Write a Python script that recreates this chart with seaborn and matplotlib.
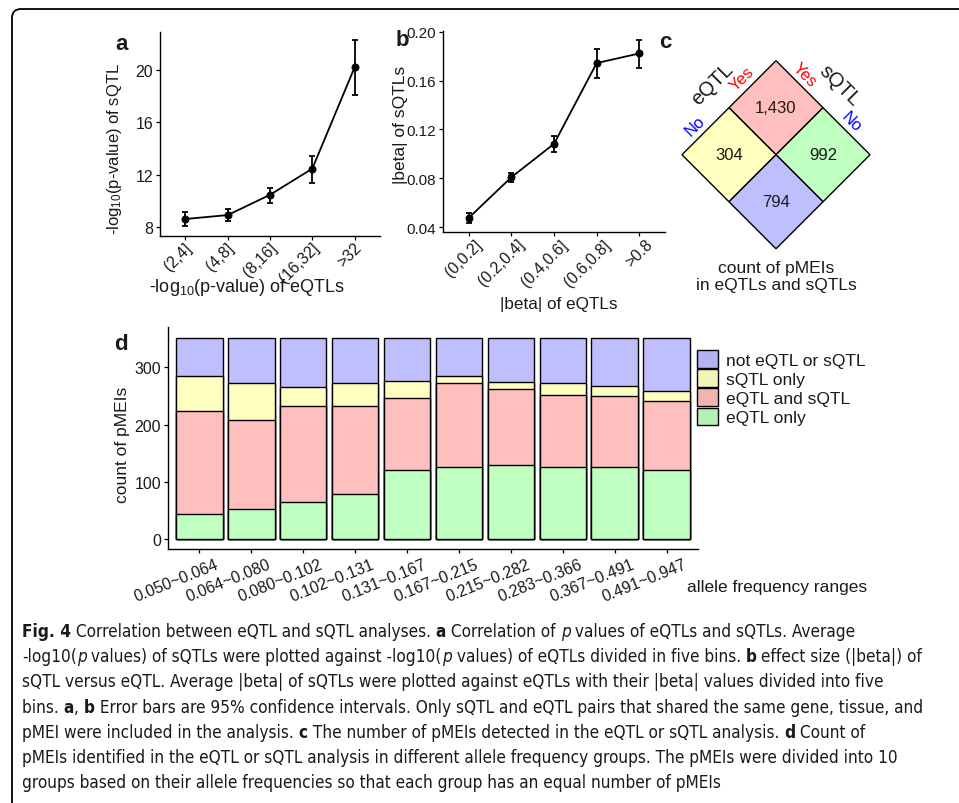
import numpy as np
import pandas as pd
import seaborn as sns
import matplotlib.pyplot as plt
from matplotlib import font_manager
from matplotlib.patches import Rectangle, FancyBboxPatch, Patch
from matplotlib.transforms import Affine2D, ScaledTranslation

# ---- panel a: -log10(p) of sQTL vs eQTL bins
pval_bins = ['(2,4]', '(4,8]', '(8,16]', '(16,32]', '>32']
pval_mean = [8.6, 8.9, 10.45, 12.45, 20.2]
pval_low = [8.05, 8.45, 9.85, 11.35, 18.1]
pval_high = [9.1, 9.4, 11.0, 13.45, 22.3]

# ---- panel b: |beta| of sQTL vs eQTL bins
beta_bins = ['(0,0.2]', '(0.2,0.4]', '(0.4,0.6]', '(0.6,0.8]', '>0.8']
beta_mean = [0.0474, 0.0808, 0.1082, 0.1745, 0.1824]
beta_low = [0.0433, 0.0767, 0.1019, 0.1622, 0.1704]
beta_high = [0.0515, 0.0844, 0.1145, 0.1857, 0.1934]

# ---- panel c: counts, rows = eQTL (Yes, No), cols = sQTL (Yes, No)
venn_levels = ['Yes', 'No']
venn_counts = [[1430, 992], [304, 794]]

# ---- panel d: stacked counts per allele frequency group
freq_ranges = ['0.050~0.064', '0.064~0.080', '0.080~0.102', '0.102~0.131',
               '0.131~0.167', '0.167~0.215', '0.215~0.282', '0.283~0.366',
               '0.367~0.491', '0.491~0.947']
eqtl_only = [44, 52, 65, 78, 121, 126, 130, 126, 126, 120]
eqtl_and_sqtl = [180, 156, 167, 155, 125, 146, 133, 126, 124, 122]
sqtl_only = [61, 65, 33, 39, 30, 13, 11, 21, 17, 16]
neither = [67, 79, 87, 80, 76, 67, 78, 79, 85, 94]

BLUE, YELLOW, PINK, GREEN = '#BFBFFF', '#FFFFBF', '#FFBFBF', '#BFFFBF'
INK = '#1a1a1a'

# make sure the Liberation fonts are registered, then pick what is there
for path in font_manager.findSystemFonts():
    if 'iberation' in path or 'Arimo' in path:
        try:
            font_manager.fontManager.addfont(path)
        except Exception:
            pass
names = {f.name for f in font_manager.fontManager.ttflist}


def pick(*cands):
    for c in cands:
        if c in names:
            return c
    return 'DejaVu Sans'


SANS = pick('Liberation Sans', 'Arimo', 'Arial', 'Roboto')
NARROW = pick('Liberation Sans Narrow', 'Arial Narrow')

sns.set_style('ticks')
plt.rcParams['font.family'] = [SANS, 'DejaVu Sans']
plt.rcParams['mathtext.fontset'] = 'custom'
plt.rcParams['mathtext.rm'] = SANS
plt.rcParams['mathtext.default'] = 'regular'
plt.rcParams['axes.linewidth'] = 1.0
plt.rcParams['axes.edgecolor'] = 'black'
plt.rcParams['xtick.color'] = 'black'
plt.rcParams['ytick.color'] = 'black'
plt.rcParams['xtick.labelcolor'] = INK
plt.rcParams['ytick.labelcolor'] = INK
plt.rcParams['xtick.major.size'] = 3
plt.rcParams['ytick.major.size'] = 3
plt.rcParams['xtick.major.width'] = 0.9
plt.rcParams['ytick.major.width'] = 0.9

W, H = 959, 804
fig = plt.figure(figsize=(W / 100, H / 100), dpi=100)


def px_axes(l, t, r, b):
    return fig.add_axes([l / W, 1 - b / H, (r - l) / W, (b - t) / H])


def shift(labels, dx, dy):
    off = ScaledTranslation(dx / 100, -dy / 100, fig.dpi_scale_trans)
    for lab in labels:
        lab.set_transform(lab.get_transform() + off)


def line_panel(ax, bins, mean, low, high, tick_size):
    pos = np.arange(len(bins))
    df = pd.DataFrame({'pos': pos, 'mean': mean})
    sns.lineplot(data=df, x='pos', y='mean', color='black', linewidth=1.3,
                 marker='o', markersize=5, markeredgecolor='black', ax=ax)
    err = [np.subtract(mean, low), np.subtract(high, mean)]
    ax.errorbar(pos, mean, yerr=err, fmt='none', ecolor='black',
                elinewidth=1.3, capsize=2.3, capthick=1.3)
    ax.set_xlim(-0.6, len(bins) - 0.4)
    ax.set_xticks(pos)
    ax.set_xticklabels(bins, rotation=45, ha='right', va='top',
                       rotation_mode='anchor', fontsize=tick_size)
    ax.tick_params(axis='y', labelsize=tick_size, pad=2)
    ax.tick_params(axis='x', pad=3)
    sns.despine(ax=ax)


# ---- a
ax_a = px_axes(160, 33, 380, 237)
line_panel(ax_a, pval_bins, pval_mean, pval_low, pval_high, 11.5)
ax_a.set_ylim(7.3, 22.9)
ax_a.set_yticks([8, 12, 16, 20])
ax_a.set_xlabel('-log$_{10}$(p-value) of eQTLs', fontsize=13, color=INK)
ax_a.set_ylabel('-log$_{10}$(p-value) of sQTL', fontsize=12, color=INK)
ax_a.xaxis.set_label_coords((247 - 160) / 220, -(287 - 237) / 204)
ax_a.yaxis.set_label_coords(-(160 - 115) / 220, (237 - 149) / 204)
ax_a.xaxis.label.set_va('center')
ax_a.yaxis.label.set_va('center')
shift(ax_a.get_xticklabels(), -1, -5)

# ---- b
ax_b = px_axes(443, 32, 665, 233)
line_panel(ax_b, beta_bins, beta_mean, beta_low, beta_high, 11.5)
ax_b.set_ylim(0.0359, 0.2008)
ax_b.set_yticks([0.04, 0.08, 0.12, 0.16, 0.20])
ax_b.set_yticklabels(['0.04', '0.08', '0.12', '0.16', '0.20'])
ax_b.tick_params(axis='y', labelsize=11)
ax_b.set_xlabel('|beta| of eQTLs', fontsize=12.3, color=INK)
ax_b.set_ylabel('|beta| of sQTLs', fontsize=12.5, color=INK)
ax_b.xaxis.set_label_coords((559 - 443) / 222, -(305 - 233) / 201)
ax_b.yaxis.set_label_coords(-(443 - 401) / 222, (233 - 125) / 201)
ax_b.xaxis.label.set_va('center')
ax_b.yaxis.label.set_va('center')
shift(ax_b.get_xticklabels(), 6, -4)

# ---- c
unit = 66.5
ax_c = px_axes(660, 40, 900, 300)
ax_c.set_xlim((660 - 776) / unit, (900 - 776) / unit)
ax_c.set_ylim(-(300 - 61.7) / unit, (61.7 - 40) / unit)
ax_c.axis('off')
rot = Affine2D().rotate_deg(-45) + ax_c.transData
cell_colors = [[PINK, GREEN], [YELLOW, BLUE]]
for j in range(2):
    for i in range(2):
        ax_c.add_patch(Rectangle((i, -(j + 1)), 1, 1, facecolor=cell_colors[j][i],
                                 edgecolor='black', linewidth=1.0, transform=rot))
        ax_c.text(i + 0.5, -(j + 0.5), f'{venn_counts[j][i]:,}', transform=rot,
                  ha='center', va='center', fontsize=12, color=INK)
ax_c.text(-0.43, -0.92, 'eQTL', transform=rot, rotation=45, ha='center',
          va='center', fontsize=14.5, color=INK)
ax_c.text(0.93, 0.42, 'sQTL', transform=rot, rotation=-45, ha='center',
          va='center', fontsize=14.5, color=INK)
for k, lev in enumerate(venn_levels):
    col = 'red' if lev == 'Yes' else 'blue'
    ax_c.text(-0.18, -(k + 0.55), lev, transform=rot, rotation=45, ha='center',
              va='center', fontsize=12, color=col)
    ax_c.text(k + 0.45, 0.16, lev, transform=rot, rotation=-45, ha='center',
              va='center', fontsize=12, color=col)
fig.text(776 / W, 1 - 277 / H, 'count of pMEIs\nin eQTLs and sQTLs', ha='center',
         va='center', fontsize=12.5, color=INK, linespacing=1.2)

# ---- d
ax_d = px_axes(168, 328, 698, 550)
g = np.array(eqtl_only)
p = g + np.array(eqtl_and_sqtl)
y = p + np.array(sqtl_only)
t = y + np.array(neither)
for vals, col in [(t, BLUE), (y, YELLOW), (p, PINK), (g, GREEN)]:
    sns.barplot(x=freq_ranges, y=vals, color=col, saturation=1, width=0.9,
                edgecolor='black', linewidth=1.0, ax=ax_d)
ax_d.set_xlim(-0.6, len(freq_ranges) - 0.4)
ax_d.set_ylim(-17.5, 370.6)
ax_d.set_yticks([0, 100, 200, 300])
ax_d.tick_params(axis='y', labelsize=11.5, pad=2)
ax_d.tick_params(axis='x', pad=3)
ax_d.set_xticks(range(len(freq_ranges)))
ax_d.set_xticklabels(freq_ranges, rotation=22, ha='right', va='top',
                     rotation_mode='anchor', fontsize=11.5)
shift(ax_d.get_xticklabels(), 16, -1)
ax_d.set_xlabel('')
ax_d.set_ylabel('count of pMEIs', fontsize=12.5, color=INK)
ax_d.yaxis.set_label_coords(-(168 - 123) / 530, (550 - 445) / 222)
ax_d.yaxis.label.set_va('center')
sns.despine(ax=ax_d)
fig.text(777 / W, 1 - 588 / H, 'allele frequency ranges', ha='center', va='center',
         fontsize=12.5, color=INK)

handles = [Patch(facecolor=c, edgecolor='black', linewidth=1.0)
           for c in ['#B3B3F2', '#F4F4B6', '#F4B3B3', '#B3F2B3']]
labels = ['not eQTL or sQTL', 'sQTL only', 'eQTL and sQTL', 'eQTL only']
fig.legend(handles, labels, loc='upper left', bbox_to_anchor=(697 / W, 1 - 351 / H),
           frameon=False, fontsize=12.5, handlelength=1.2, handleheight=1.2,
           labelspacing=0.08, handletextpad=0.45, borderpad=0, borderaxespad=0,
           labelcolor=INK)

# panel letters
for ch, x, yy in [('a', 122, 44), ('b', 402, 41), ('c', 665, 43), ('d', 121, 344)]:
    fig.text(x / W, 1 - yy / H, ch, fontsize=16, fontweight='bold', ha='center',
             va='center', color=INK)

# ---- frame
fig.add_artist(FancyBboxPatch((0.12, -1.0), 12, 8.04 - 0.10 + 1.0,
                              boxstyle='round,pad=0,rounding_size=0.09',
                              transform=fig.dpi_scale_trans, fill=False,
                              linewidth=1.3, edgecolor='black'))

# ---- caption
caption = [
    [('Fig. 4', 'b'), (' Correlation between eQTL and sQTL analyses. ', 'n'), ('a', 'b'),
     (' Correlation of ', 'n'), ('p', 'i'), (' values of eQTLs and sQTLs. Average', 'n')],
    [('-log10(', 'n'), ('p', 'i'), (' values) of sQTLs were plotted against -log10(', 'n'),
     ('p', 'i'), (' values) of eQTLs divided in five bins. ', 'n'), ('b', 'b'),
     (' effect size (|beta|) of', 'n')],
    [('sQTL versus eQTL. Average |beta| of sQTLs were plotted against eQTLs with their '
      '|beta| values divided into five', 'n')],
    [('bins. ', 'n'), ('a', 'b'), (', ', 'n'), ('b', 'b'),
     (' Error bars are 95% confidence intervals. Only sQTL and eQTL pairs that shared '
      'the same gene, tissue, and', 'n')],
    [('pMEI were included in the analysis. ', 'n'), ('c', 'b'),
     (' The number of pMEIs detected in the eQTL or sQTL analysis. ', 'n'), ('d', 'b'),
     (' Count of', 'n')],
    [('pMEIs identified in the eQTL or sQTL analysis in different allele frequency '
      'groups. The pMEIs were divided into 10', 'n')],
    [('groups based on their allele frequencies so that each group has an equal number '
      'of pMEIs', 'n')],
]
renderer = fig.canvas.get_renderer()


def style_kw(st, size):
    kw = dict(family=[NARROW, 'DejaVu Sans'], fontsize=size, color=INK)
    if NARROW == 'DejaVu Sans':
        kw['fontstretch'] = 'condensed'
    if st == 'b':
        kw['fontweight'] = 'bold'
    if st == 'i':
        kw['fontstyle'] = 'italic'
    return kw


def run_width(s, st, size):
    a = fig.text(0, 0, '|' + s + '|', **style_kw(st, size))
    b = fig.text(0, 0, '||', **style_kw(st, size))
    w = a.get_window_extent(renderer).width - b.get_window_extent(renderer).width
    a.remove()
    b.remove()
    return w


base = 10
w0 = sum(run_width(s, st, base) for s, st in caption[0])
cap_size = base * 836 / w0
for n, line in enumerate(caption):
    x = 22
    yy = 630 + n * 25.2
    for s, st in line:
        fig.text(x / W, 1 - yy / H, s, ha='left', va='center_baseline',
                 **style_kw(st, cap_size))
        x += run_width(s, st, cap_size)

fig.savefig('out.png', dpi=100)
